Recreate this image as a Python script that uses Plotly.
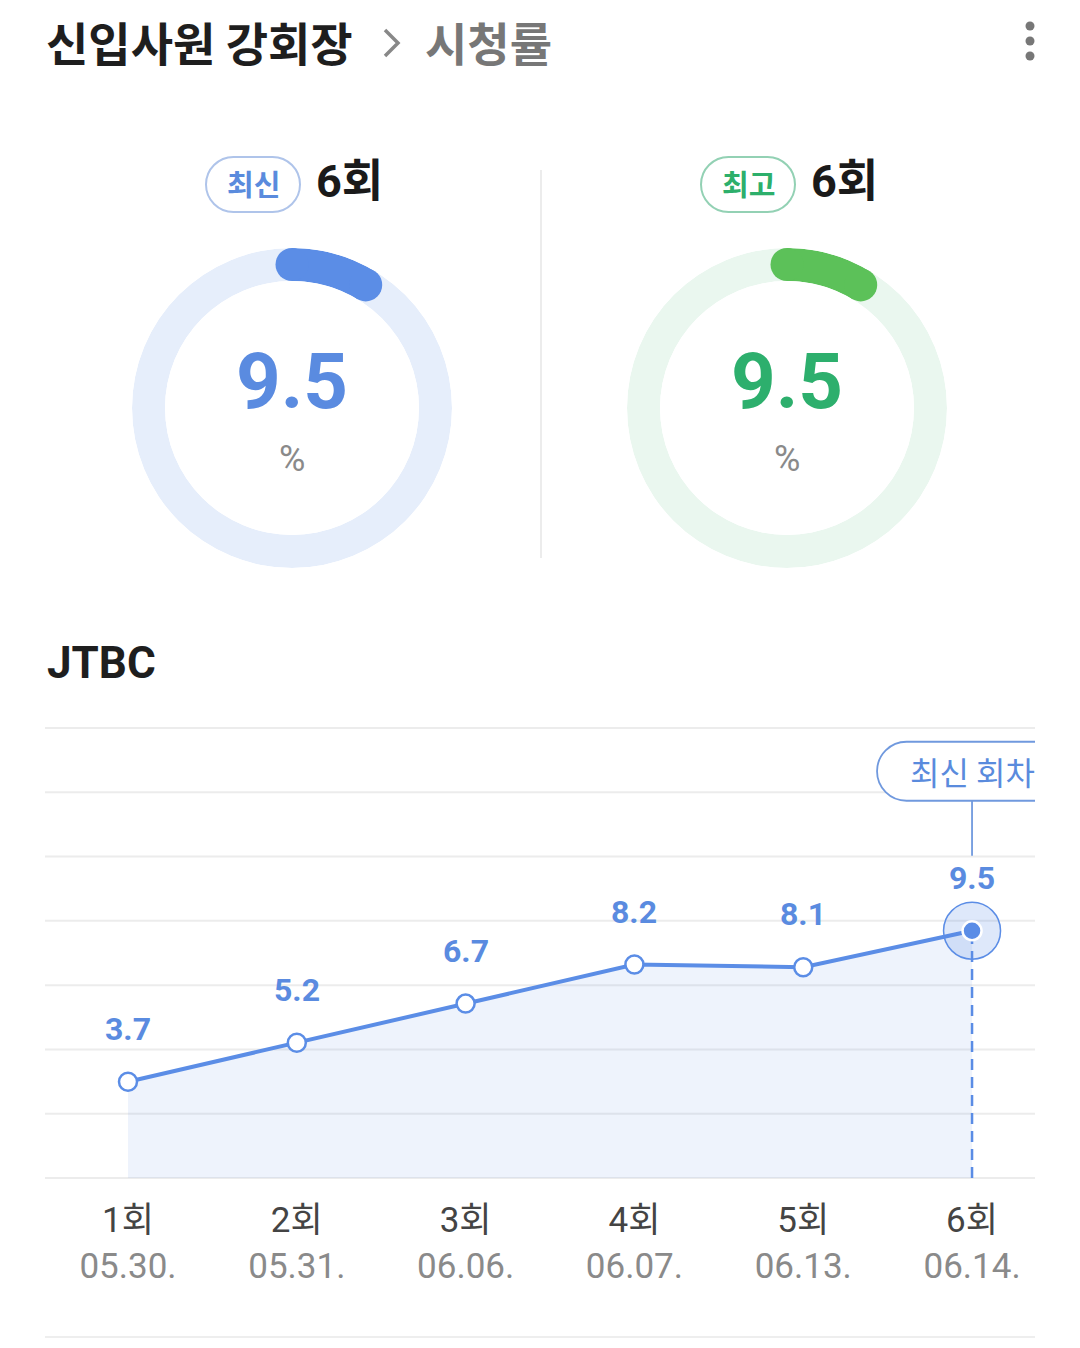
import math
import plotly.graph_objects as go

# page body adds an 8px margin: the figure is sized to fit the window
OFF = 8
W, H = 1080 - OFF, 1348 - OFF

# ---------------- data ----------------
show_title = "신입사원 강회장"
page_title = "시청률"
channel = "JTBC"

latest_label = "최신"
latest_episode = "6회"
latest_rating = 9.5
best_label = "최고"
best_episode = "6회"
best_rating = 9.5
gauge_max = 100

episodes = ["1회", "2회", "3회", "4회", "5회", "6회"]
air_dates = ["05.30.", "05.31.", "06.06.", "06.07.", "06.13.", "06.14."]
ratings = [3.7, 5.2, 6.7, 8.2, 8.1, 9.5]
badge_text = "최신 회차"

# ---------------- styles ----------------
FONT = "Roboto, 'Noto Sans CJK KR', sans-serif"
KFONT = "'Noto Sans CJK KR', Roboto, sans-serif"
BLUE = "#5B8DE6"
BLUE_TXT = "#5A8BE0"
BLUE_TRACK = "#E6EEFB"
GREEN_ARC = "#5CC159"
GREEN_TXT = "#2DAF6D"
GREEN_TRACK = "#EAF7EF"


def px(x):
    return (x - OFF) / W


def py(y):
    return 1 - (y - OFF) / H


def pill_path(x0, y0, x1, y1, conv):
    """rounded pill path; y0 < y1 in the given coordinate system"""
    r = (y1 - y0) / 2
    ym = (y0 + y1) / 2
    k = 0.5523 * r
    pts = [
        ("M", [(x0 + r, y0)]),
        ("L", [(x1 - r, y0)]),
        ("C", [(x1 - r + k, y0), (x1, ym - k), (x1, ym)]),
        ("C", [(x1, ym + k), (x1 - r + k, y1), (x1 - r, y1)]),
        ("L", [(x0 + r, y1)]),
        ("C", [(x0 + r - k, y1), (x0, ym + k), (x0, ym)]),
        ("C", [(x0, ym - k), (x0 + r - k, y0), (x0 + r, y0)]),
    ]
    s = ""
    for cmd, ps in pts:
        s += cmd + " " + " ".join("%.5f,%.5f" % conv(a, b) for a, b in ps) + " "
    return s + "Z"


fig = go.Figure()
shapes = []
annotations = []

# ---------------- header ----------------
annotations.append(dict(x=px(44), y=py(41), xref="paper", yref="paper", xanchor="left", yanchor="middle",
                        text="<b>%s</b>" % show_title, showarrow=False,
                        font=dict(family=KFONT, size=46, color="#1E1E1E")))
annotations.append(dict(x=px(423), y=py(41), xref="paper", yref="paper", xanchor="left", yanchor="middle",
                        text="<b>%s</b>" % page_title, showarrow=False,
                        font=dict(family=KFONT, size=46, color="#777777")))
shapes.append(dict(type="path", xref="paper", yref="paper",
                   path="M %.5f,%.5f L %.5f,%.5f L %.5f,%.5f" % (px(385), py(30), px(398), py(43), px(385), py(56)),
                   line=dict(color="#888888", width=3.5)))
for yy in (26, 41, 56):
    shapes.append(dict(type="circle", xref="paper", yref="paper",
                       x0=px(1025.5), x1=px(1034.5), y0=py(yy + 4.5), y1=py(yy - 4.5),
                       fillcolor="#777777", line=dict(width=0)))

# divider between gauges
shapes.append(dict(type="line", xref="paper", yref="paper", x0=px(541), x1=px(541), y0=py(170), y1=py(558),
                   line=dict(color="#ECECEC", width=2)))


# ---------------- gauges ----------------
def add_gauge(name, cx, cy, value, arc_col, track_col, num_col, label, label_col, border_col, episode,
              pill_x0, pill_x1):
    R = 160
    ring = 33
    hole = (R - ring) / R
    mid_r = R - ring / 2
    cap_deg = math.degrees((ring / 2) / mid_r)
    sweep = value / gauge_max * 360 - cap_deg / 2
    fig.add_trace(go.Barpolar(r=[1, 1], theta=[90, 270], width=[180, 180], subplot=name,
                              marker=dict(color=track_col, line=dict(width=0)), hoverinfo="skip"))
    fig.add_trace(go.Barpolar(r=[1], theta=[sweep / 2], width=[sweep], subplot=name,
                              marker=dict(color=arc_col, line=dict(width=0)), hoverinfo="skip"))
    fig.add_trace(go.Scatterpolar(r=[0.5, 0.5], theta=[0, sweep], mode="markers", subplot=name,
                                  cliponaxis=False,
                                  marker=dict(size=ring, color=arc_col, line=dict(width=0)), hoverinfo="skip"))
    fig.update_layout(**{name: dict(
        domain=dict(x=[px(cx - R), px(cx + R)], y=[py(cy + R), py(cy - R)]),
        hole=hole, bgcolor="rgba(0,0,0,0)",
        radialaxis=dict(visible=False, range=[0, 1]),
        angularaxis=dict(visible=False, rotation=90, direction="clockwise"),
    )})
    annotations.append(dict(x=px(cx), y=py(381), xref="paper", yref="paper", xanchor="center", yanchor="middle",
                            text="<b>%s</b>" % value, showarrow=False,
                            font=dict(family=FONT, size=78, color=num_col)))
    annotations.append(dict(x=px(cx), y=py(459), xref="paper", yref="paper", xanchor="center", yanchor="middle",
                            text="%", showarrow=False,
                            font=dict(family=FONT, size=36, color="#8A8A8A")))
    # label pill
    shapes.append(dict(type="path", xref="paper", yref="paper",
                       path=pill_path(pill_x0, 157, pill_x1, 212, lambda a, b: (px(a), py(b))),
                       fillcolor="white", line=dict(color=border_col, width=2)))
    annotations.append(dict(x=px((pill_x0 + pill_x1) / 2), y=py(183), xref="paper", yref="paper",
                            xanchor="center", yanchor="middle", text="<b>%s</b>" % label, showarrow=False,
                            font=dict(family=KFONT, size=29, color=label_col)))
    annotations.append(dict(x=px(pill_x1 + 14), y=py(182), xref="paper", yref="paper",
                            xanchor="left", yanchor="middle", text="<b>%s</b>" % episode, showarrow=False,
                            font=dict(family=FONT, size=45, color="#1A1A1A")))


add_gauge("polar", 292, 408, latest_rating, BLUE, BLUE_TRACK, BLUE_TXT, latest_label, "#5A8BDD", "#AFC4EA",
          latest_episode, 206, 300)
add_gauge("polar2", 787, 408, best_rating, GREEN_ARC, GREEN_TRACK, GREEN_TXT, best_label, "#2DAF6B", "#93D1B4",
          best_episode, 701, 795)

# ---------------- line chart ----------------
annotations.append(dict(x=px(45), y=py(663), xref="paper", yref="paper", xanchor="left", yanchor="middle",
                        text="<b>%s</b>" % channel, showarrow=False,
                        font=dict(family=FONT, size=44, color="#1E1E1E")))

xs = list(range(len(ratings)))
for k in range(8):
    shapes.append(dict(type="line", xref="x domain", yref="y domain", x0=0, x1=1, y0=k / 7, y1=k / 7,
                       line=dict(color="#ECECEC", width=2), layer="below"))

# dashed guide for the latest episode
shapes.append(dict(type="line", xref="x", yref="y", x0=xs[-1], x1=xs[-1], y0=0, y1=ratings[-1],
                   line=dict(color=BLUE, width=2.5, dash="11px,7px"), layer="below"))

fig.add_trace(go.Scatter(x=xs, y=ratings, mode="lines", fill="tozeroy",
                         fillcolor="rgba(91,141,230,0.10)", line=dict(color=BLUE, width=4),
                         hoverinfo="skip"))
fig.add_trace(go.Scatter(x=xs[:-1], y=ratings[:-1], mode="markers",
                         marker=dict(size=18, color="white", line=dict(color=BLUE, width=2.5)),
                         hoverinfo="skip"))
fig.add_trace(go.Scatter(x=xs[-1:], y=ratings[-1:], mode="markers", cliponaxis=False,
                         marker=dict(size=57, color="rgba(91,141,230,0.20)", line=dict(color=BLUE, width=1.5)),
                         hoverinfo="skip"))
fig.add_trace(go.Scatter(x=xs[-1:], y=ratings[-1:], mode="markers", cliponaxis=False,
                         marker=dict(size=19, color=BLUE, line=dict(color="white", width=2.5)),
                         hoverinfo="skip"))

for xv, v in zip(xs, ratings):
    annotations.append(dict(x=xv, y=v, xref="x", yref="y", text="<b>%s</b>" % v, showarrow=False,
                            yshift=53, font=dict(family=FONT, size=32, color=BLUE_TXT)))

# latest-episode badge + connector (pixel offsets above the latest point)
shapes.append(dict(type="path", xref="x", yref="y", xsizemode="pixel", ysizemode="pixel",
                   xanchor=xs[-1], yanchor=ratings[-1],
                   path=pill_path(-95, 130, 95, 189, lambda a, b: (a, b)),
                   fillcolor="white", line=dict(color="#7099DE", width=1.8), layer="above"))
shapes.append(dict(type="line", xref="x", yref="y", ysizemode="pixel", yanchor=ratings[-1],
                   x0=xs[-1], x1=xs[-1], y0=75, y1=130,
                   line=dict(color="#7099DE", width=1.8)))
annotations.append(dict(x=xs[-1], y=ratings[-1], xref="x", yref="y", text=badge_text, showarrow=False,
                        yshift=160, font=dict(family=KFONT, size=32, color="#5A8BDD")))

ticktext = ["%s<br><span style='color:#8A8A8A'>%s</span>" % (e, d) for e, d in zip(episodes, air_dates)]

# bottom divider
shapes.append(dict(type="line", xref="paper", yref="paper", x0=px(45), x1=px(1035), y0=py(1337), y1=py(1337),
                   line=dict(color="#EEEEEE", width=2)))

fig.update_layout(
    width=W, height=H,
    margin=dict(l=0, r=0, t=0, b=0),
    paper_bgcolor="white", plot_bgcolor="white",
    showlegend=False,
    xaxis=dict(domain=[px(45), px(1035)], range=[-0.4917, 5.373], showgrid=False, zeroline=False,
               showline=False, ticks="", tickvals=xs, ticktext=ticktext, ticklabelstandoff=18,
               tickfont=dict(family=FONT, size=35, color="#444444"), fixedrange=True),
    yaxis=dict(domain=[py(1178), py(728)], range=[0, 17.29], showgrid=False, zeroline=False,
               showline=False, showticklabels=False, ticks="", fixedrange=True),
    shapes=shapes,
    annotations=annotations,
)

fig.write_html("out.html", config=dict(displayModeBar=False))
